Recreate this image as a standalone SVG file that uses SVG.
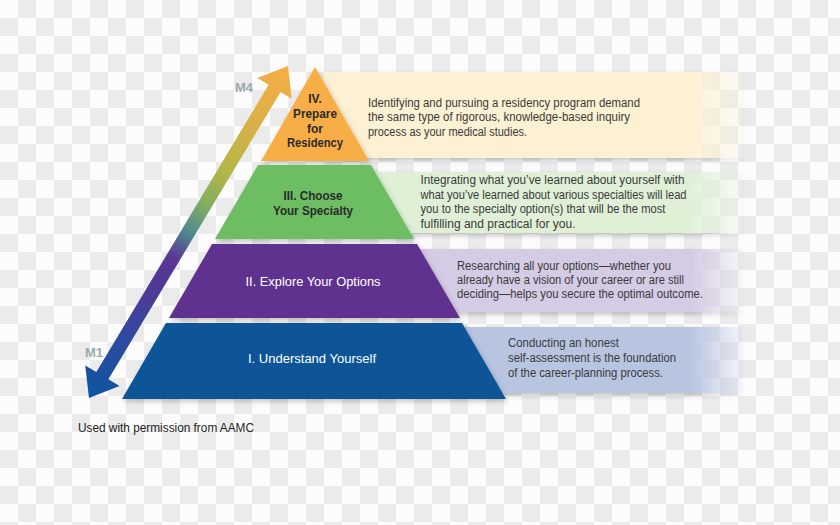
<svg xmlns="http://www.w3.org/2000/svg" width="840" height="525" viewBox="0 0 840 525">
  <defs>
    <pattern id="chk" width="36" height="36" patternUnits="userSpaceOnUse">
      <rect width="36" height="36" fill="#fcfcfc"/>
      <rect x="18" y="0" width="18" height="18" fill="#ebebeb"/>
      <rect x="0" y="18" width="18" height="18" fill="#ebebeb"/>
    </pattern>
    <linearGradient id="fadeG" gradientUnits="userSpaceOnUse" x1="690" y1="0" x2="744" y2="0">
      <stop offset="0" stop-color="#fff"/>
      <stop offset="1" stop-color="#fff" stop-opacity="0.1"/>
    </linearGradient>
    <mask id="fade" maskUnits="userSpaceOnUse" x="0" y="0" width="840" height="525">
      <rect x="0" y="0" width="840" height="525" fill="url(#fadeG)"/>
    </mask>
    <filter id="sh" x="-10%" y="-20%" width="130%" height="150%">
      <feDropShadow dx="1.5" dy="2.5" stdDeviation="2.5" flood-color="#000" flood-opacity="0.22"/>
    </filter>
    <linearGradient id="arrowG" gradientUnits="userSpaceOnUse" x1="0" y1="0" x2="387" y2="0">
      <stop offset="0" stop-color="#0c55a0"/>
      <stop offset="0.18" stop-color="#2f4aa0"/>
      <stop offset="0.3" stop-color="#4b3c98"/>
      <stop offset="0.42" stop-color="#5a3592"/>
      <stop offset="0.5" stop-color="#4f8a90"/>
      <stop offset="0.58" stop-color="#80ad60"/>
      <stop offset="0.68" stop-color="#b3b648"/>
      <stop offset="0.82" stop-color="#d8b048"/>
      <stop offset="1" stop-color="#f8ad44"/>
    </linearGradient>
  </defs>
  <style>
    .band { mask: url(#fade); filter: url(#sh); }
    .shape { filter: url(#sh); }
    .desc { font-family: "Liberation Sans", Arial, sans-serif; font-size: 12px; fill: #3a3a3a; }
    .lab { font-family: "Liberation Sans", Arial, sans-serif; font-size: 12px; font-weight: bold; fill: #2a2a2a; text-anchor: middle; }
    .labw { font-family: "Liberation Sans", Arial, sans-serif; font-size: 13px; fill: #ffffff; text-anchor: middle; }
    .m { font-family: "Liberation Sans", Arial, sans-serif; font-size: 13px; font-weight: bold; fill: #98aaac; }
    .foot { font-family: "Liberation Sans", Arial, sans-serif; font-size: 12px; fill: #222222; }
  </style>

  <rect x="0" y="0" width="840" height="525" fill="url(#chk)"/>

  <g id="node-iv">
    <rect class="band" x="323" y="72" width="419" height="86" fill="#fdf1d3"/>
    <polygon class="shape" points="315,67 369,161 261,161" fill="#f8ae46"/>
    <text class="lab" x="315" y="103">IV.</text>
    <text class="lab" x="315" y="118" textLength="44" lengthAdjust="spacingAndGlyphs">Prepare</text>
    <text class="lab" x="315" y="133">for</text>
    <text class="lab" x="315" y="147" textLength="56" lengthAdjust="spacingAndGlyphs">Residency</text>
    <text class="desc" x="368" y="106.5" textLength="272" lengthAdjust="spacingAndGlyphs">Identifying and pursuing a residency program demand</text>
    <text class="desc" x="368" y="121" textLength="262" lengthAdjust="spacingAndGlyphs">the same type of rigorous, knowledge-based inquiry</text>
    <text class="desc" x="368" y="135.5" textLength="159" lengthAdjust="spacingAndGlyphs">process as your medical studies.</text>
  </g>

  <g id="node-iii">
    <rect class="band" x="360" y="172" width="382" height="61" fill="#dff0d7"/>
    <polygon class="shape" points="258,165 371,165 414,239 215,239" fill="#6dbe63"/>
    <text class="lab" x="313" y="200" textLength="59" lengthAdjust="spacingAndGlyphs">III. Choose</text>
    <text class="lab" x="313" y="215" textLength="80" lengthAdjust="spacingAndGlyphs">Your Specialty</text>
    <text class="desc" x="420.5" y="184" textLength="264" lengthAdjust="spacingAndGlyphs">Integrating what you’ve learned about yourself with</text>
    <text class="desc" x="420.5" y="198.5" textLength="266" lengthAdjust="spacingAndGlyphs">what you’ve learned about various specialties will lead</text>
    <text class="desc" x="420.5" y="213" textLength="245" lengthAdjust="spacingAndGlyphs">you to the specialty option(s) that will be the most</text>
    <text class="desc" x="420.5" y="228" textLength="155" lengthAdjust="spacingAndGlyphs">fulfilling and practical for you.</text>
  </g>

  <g id="node-ii">
    <rect class="band" x="400" y="249" width="342" height="63" fill="#d4cbe4"/>
    <polygon class="shape" points="212,244 417,244 460,318 169,318" fill="#61308f"/>
    <text class="labw" x="313" y="285.5" textLength="135" lengthAdjust="spacingAndGlyphs">II. Explore Your Options</text>
    <text class="desc" x="457" y="270" textLength="214" lengthAdjust="spacingAndGlyphs">Researching all your options—whether you</text>
    <text class="desc" x="457" y="284" textLength="227" lengthAdjust="spacingAndGlyphs">already have a vision of your career or are still</text>
    <text class="desc" x="457" y="298" textLength="246" lengthAdjust="spacingAndGlyphs">deciding—helps you secure the optimal outcome.</text>
  </g>

  <g id="node-i">
    <rect class="band" x="450" y="327" width="292" height="66" fill="#b8c5e1"/>
    <polygon class="shape" points="166,323 462,323 506,399 122,399" fill="#0a5497"/>
    <text class="labw" x="312" y="362.5" textLength="128" lengthAdjust="spacingAndGlyphs">I. Understand Yourself</text>
    <text class="desc" x="508" y="347" textLength="111" lengthAdjust="spacingAndGlyphs">Conducting an honest</text>
    <text class="desc" x="508" y="362" textLength="168" lengthAdjust="spacingAndGlyphs">self-assessment is the foundation</text>
    <text class="desc" x="508" y="376.5" textLength="155" lengthAdjust="spacingAndGlyphs">of the career-planning process.</text>
  </g>

  <g id="connectors">
    <g transform="translate(89,398) rotate(-59.06)">
      <polygon points="0,0 26,-20 26,-7 361,-7 361,-20 387,0 361,20 361,7 26,7 26,20" fill="url(#arrowG)"/>
    </g>
    <text class="m" x="235" y="92">M4</text>
    <text class="m" x="85" y="357">M1</text>
  </g>

  <text class="foot" x="78" y="432" textLength="176" lengthAdjust="spacingAndGlyphs">Used with permission from AAMC</text>
</svg>
